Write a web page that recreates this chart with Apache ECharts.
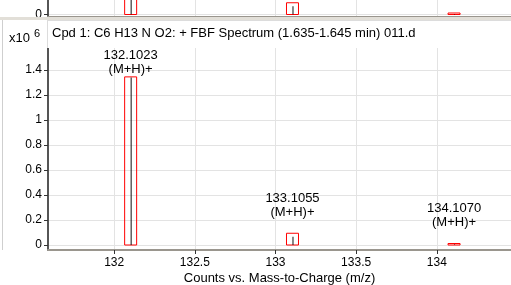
<!DOCTYPE html>
<html>
<head>
<meta charset="utf-8">
<script src="https://cdn.jsdelivr.net/npm/echarts@6/dist/echarts.min.js"></script>
<style>
  html, body { margin: 0; padding: 0; background: #fff; }
  #chart { width: 511px; height: 285px; }
</style>
</head>
<body>
<div id="chart"></div>
<script>
// spectrum peaks (counts in units of 10^6)
const peakMz = [132.1023, 133.1055, 134.1070];
const peakCounts = [1.34, 0.066, 0.004];
const boxCounts = [1.345, 0.094, 0.012];
const peakNames = ['(M+H)+', '(M+H)+', '(M+H)+'];
const xTicks = [132, 132.5, 133, 133.5, 134];
const yTicks = [0, 0.2, 0.4, 0.6, 0.8, 1, 1.2, 1.4];
const titleText = 'Cpd 1: C6 H13 N O2: + FBF Spectrum (1.635-1.645 min) 011.d';
const xName = 'Counts vs. Mass-to-Charge (m/z)';

const FONT = '"Liberation Sans", Arial, sans-serif';

const peakData = peakMz.map((mz, i) => [mz, peakCounts[i], boxCounts[i], peakNames[i]]);

function renderPeak(params, api) {
  const mz = api.value(0);
  const base = api.coord([mz, 0]);
  const top = api.coord([mz, api.value(1)]);
  const boxTop = api.coord([mz, api.value(2)]);
  const halfW = 6;
  // labels sit above the box, squeezed down when they would hit the plot top
  const plotTop = params.coordSys.y;
  const gap = Math.max(0, Math.min(14, boxTop[1] - plotTop - 30));
  return {
    type: 'group',
    children: [
      {
        type: 'rect',
        shape: { x: base[0] - halfW, y: boxTop[1], width: halfW * 2, height: base[1] - boxTop[1] },
        style: { fill: 'none', stroke: '#ff0000', lineWidth: 1 }
      },
      {
        type: 'line',
        shape: { x1: base[0] + 0.5, y1: base[1], x2: base[0] + 0.5, y2: top[1] },
        style: { stroke: '#111', lineWidth: 1 }
      },
      {
        type: 'text',
        x: base[0],
        y: boxTop[1] - gap,
        style: {
          text: mz.toFixed(4) + '\n' + api.value(3),
          align: 'center',
          verticalAlign: 'bottom',
          font: '13px ' + FONT,
          lineHeight: 14,
          fill: '#000'
        }
      }
    ]
  };
}

function xAxisFor(grid, showLabels) {
  return {
    gridIndex: grid,
    type: 'value',
    min: 131.59,
    max: 134.46,
    name: showLabels ? xName : '',
    nameLocation: 'middle',
    nameGap: 22,
    nameMoveOverlap: false,
    nameTextStyle: { fontFamily: FONT, fontSize: 13, color: '#000' },
    axisLine: { show: true, onZero: false, lineStyle: { color: '#9a968e', width: 2 } },
    axisTick: { show: showLabels, customValues: xTicks, length: 4, lineStyle: { color: '#333' } },
    axisLabel: { show: showLabels, customValues: xTicks, margin: 7, fontFamily: FONT, fontSize: 12, color: '#000' },
    splitLine: { show: true, lineStyle: { color: '#e3e3e3', width: 1 } }
  };
}

function yAxisFor(grid, min) {
  return {
    gridIndex: grid,
    type: 'value',
    min: min,
    max: min + 1.616,
    axisLine: { show: true, onZero: false, lineStyle: { color: '#555', width: 2 } },
    axisTick: { show: true, customValues: yTicks, length: 4, lineStyle: { color: '#333' } },
    axisLabel: { customValues: yTicks, margin: 6, fontFamily: FONT, fontSize: 12, color: '#000' },
    splitLine: { show: true, lineStyle: { color: '#e3e3e3', width: 1 } }
  };
}

const chart = echarts.init(document.getElementById('chart'));
chart.setOption({
  animation: false,
  backgroundColor: '#fff',
  grid: [
    { left: 48, right: 0, top: 48, height: 202, outerBoundsMode: 'none', containLabel: false },
    { left: 48, right: 0, top: -185, height: 202, outerBoundsMode: 'none', containLabel: false }
  ],
  xAxis: [xAxisFor(0, true), xAxisFor(1, false)],
  yAxis: [yAxisFor(0, -0.04), yAxisFor(1, -0.02)],
  series: [
    { type: 'custom', xAxisIndex: 0, yAxisIndex: 0, data: peakData, renderItem: renderPeak, clip: false },
    { type: 'custom', xAxisIndex: 1, yAxisIndex: 1, data: peakData, renderItem: renderPeak, clip: false }
  ],
  graphic: [
    { type: 'rect', shape: { x: 0, y: 17, width: 511, height: 3 }, style: { fill: '#e2dfd8' }, z: 10 },
    { type: 'rect', shape: { x: 0, y: 20, width: 511, height: 28 }, style: { fill: '#fff' }, z: 9 },
    { type: 'line', shape: { x1: 2.5, y1: 20, x2: 2.5, y2: 250 }, style: { stroke: '#cfcfcf', lineWidth: 1 }, z: 10 },
    { type: 'line', shape: { x1: 47.5, y1: 20, x2: 47.5, y2: 48 }, style: { stroke: '#dcdcdc', lineWidth: 1 }, z: 10 },
    { type: 'line', shape: { x1: 48, y1: 20.5, x2: 511, y2: 20.5 }, style: { stroke: '#dcdcdc', lineWidth: 1 }, z: 10 },
    {
      type: 'text', left: 52, top: 27, z: 20,
      style: { text: titleText, font: '13px ' + FONT, fill: '#000' }
    },
    {
      type: 'text', left: 9, top: 32, z: 20,
      style: { text: 'x10', font: '13px ' + FONT, fill: '#000' }
    },
    {
      type: 'text', left: 34, top: 28, z: 20,
      style: { text: '6', font: '11px ' + FONT, fill: '#000' }
    }
  ]
});
</script>
</body>
</html>
